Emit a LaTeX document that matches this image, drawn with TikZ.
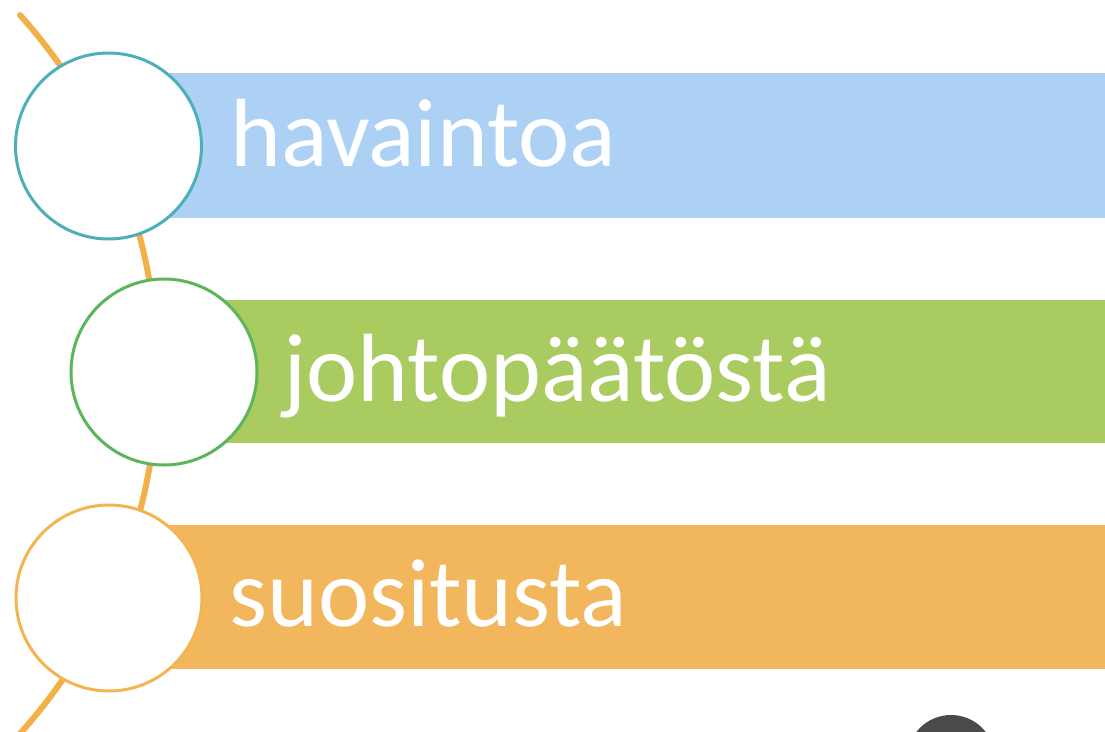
\documentclass[tikz,border=0pt]{standalone}
\usepackage{fontspec}
\setmainfont{Carlito}
\definecolor{barblue}{HTML}{ADD1F4}
\definecolor{bargreen}{HTML}{A9CB60}
\definecolor{barorange}{HTML}{F2B65C}
\definecolor{ringblue}{HTML}{4DAFBA}
\definecolor{ringgreen}{HTML}{5CB55A}
\definecolor{ringorange}{HTML}{F2B552}
\definecolor{arccol}{HTML}{F2B048}
\definecolor{darkdot}{HTML}{4A4A4A}
\tikzset{
  ring/.style={circle, fill=white, line width=3pt, minimum size=186pt, inner sep=0pt},
  label/.style={anchor=base west, inner sep=0pt, text=white, font=\fontsize{97}{100}\selectfont},
}
\begin{document}
\begin{tikzpicture}[x=1pt, y=-1pt]
\useasboundingbox (0,0) rectangle (1105,731);
\clip (0,0) rectangle (1105,731);
% orange arc behind everything
\coordinate (arcstart) at (20,15);
\draw[arccol, line width=6pt, line cap=round] (arcstart) arc[start angle=-41.9, end angle=46, radius=538];
% bars
\fill[barblue] (108,73) rectangle (1105,218);
\fill[bargreen] (164,300) rectangle (1105,443);
\fill[barorange] (109,525) rectangle (1105,669);
% rings
\node[ring, draw=ringblue] (c1) at (108.5,146) {};
\node[ring, draw=ringgreen] (c2) at (164,372) {};
\node[ring, draw=ringorange] (c3) at (109,598) {};
% labels
\node[label] (t1) at (230,166) {havaintoa};
\node[label] (t2) at (283,401) {johtopäätöstä};
\node[label] (t3) at (229,626) {suositusta};
% dark dot at bottom
\fill[darkdot] (951,759) circle[radius=44];
\end{tikzpicture}
\end{document}
